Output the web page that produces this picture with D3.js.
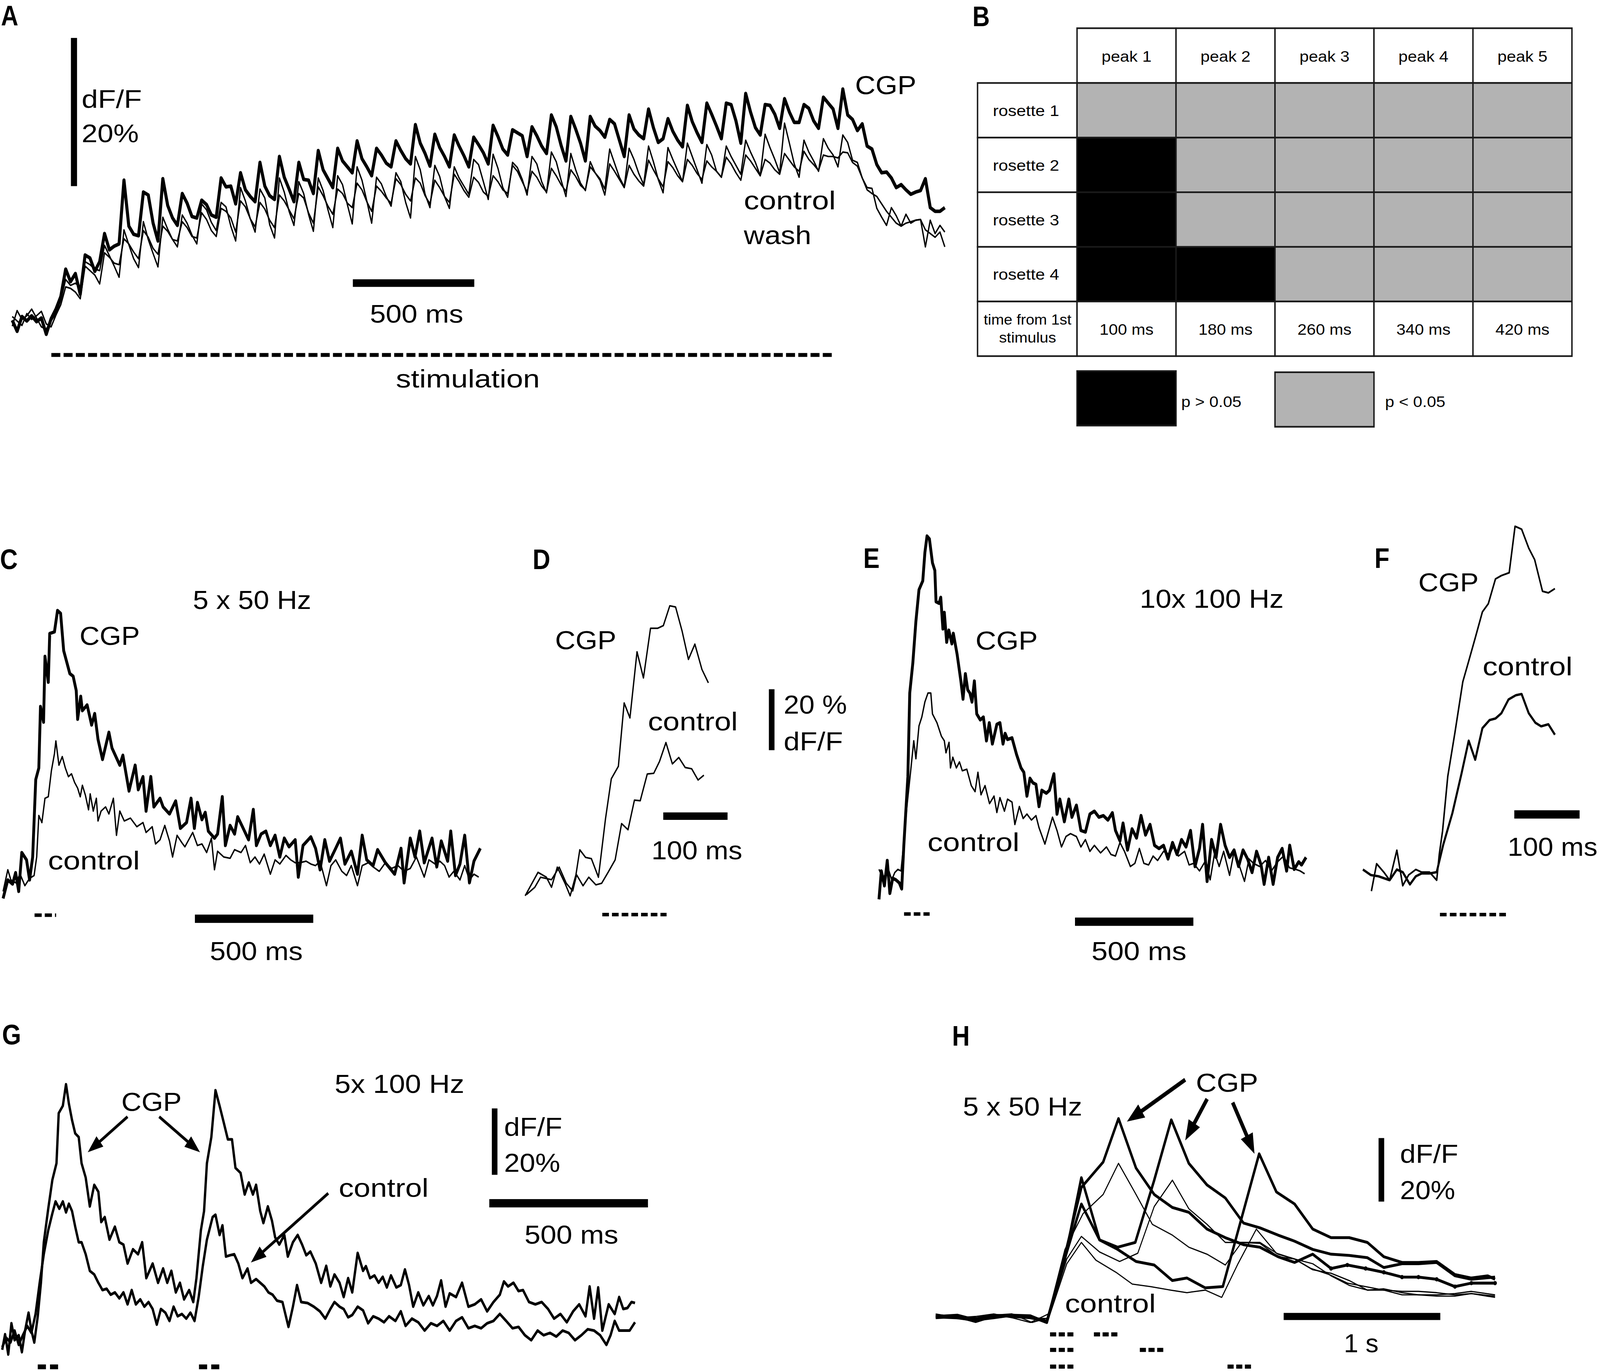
<!DOCTYPE html>
<html>
<head>
<meta charset="utf-8">
<script src="https://cdn.jsdelivr.net/npm/d3@7"></script>
<style>
  html, body { margin: 0; padding: 0; background: #fff; overflow: hidden; }
  svg { display: block; width: 100vw; height: 100vh; }
  text { font-family: "Liberation Sans", Arial, Helvetica, sans-serif; fill: #000; }
</style>
</head>
<body>
<script>
// ---------- data ----------
// A: long train, one sample every 20 ms, dF/F in %
const aStep = 20;
const aStim = [161, 3380];
const aCGP = [
  0.3,-1.2,0.8,0.2,0.9,0.1,0.6,-1.6,
  0.5,1.8,3.5,7.2, 5.5,6.6,3.8,9.1, 8.7,6.9,8.2,12.0, 9.8,10.3,10.6,19.2,
  13.0,11.9,11.7,17.6, 17.2,13.4,11.0,19.4, 15.8,14.1,13.1,17.4, 16.1,14.3,14.1,16.5,
  15.9,14.5,14.2,19.5, 18.3,18.4,16.0,20.2, 17.9,17.0,16.3,21.6, 18.4,17.1,16.6,22.4,
  19.6,18.0,16.3,21.6, 19.3,19.2,17.4,23.2, 20.6,19.4,18.2,23.5, 21.8,21.0,20.2,24.5,
  22.1,21.0,19.8,23.5, 22.6,21.5,21.0,24.5, 23.2,22.1,21.4,26.7, 24.2,22.8,21.1,25.4,
  23.6,22.4,21.0,25.3, 23.8,22.5,21.0,25.0, 24.0,22.9,21.4,26.6, 25.1,23.4,22.6,26.0,
  25.6,25.2,22.4,26.4, 25.2,23.8,22.8,28.0, 26.4,23.9,21.8,27.8, 26.1,24.2,21.8,27.8,
  26.5,25.9,25.0,27.4, 26.8,24.6,22.4,28.0, 26.1,25.3,24.8,28.8, 26.3,24.3,24.8,27.5,
  25.8,24.6,23.7,29.3, 27.1,25.6,24.3,29.6, 28.1,26.5,24.8,29.6, 29.4,27.2,24.2,30.9,
  28.4,26.3,25.3,29.4, 29.3,28.1,26.2,30.2, 28.4,27.0,27.0,29.4, 28.9,27.2,26.2,30.4,
  29.6,28.8,26.2,31.5,
  28.0,27.4,25.9,26.8,23.8,23.4,21.3,20.2,20.3,19.5,18.2,18.6,17.9,17.3,17.6,17.8,19.4,15.5,15.0,15.0,15.5
];
const aControl = [
  -0.5,1.6,0.4,0.9,1.8,0.6,-0.6,-0.9,
  0.2,1.2,3.0,5.8, 5.0,5.3,4.8,8.2, 7.8,7.2,7.0,10.4, 9.0,7.6,6.1,12.5,
  10.5,8.6,7.4,13.6, 11.2,9.3,7.5,14.2, 12.6,11.2,10.2,14.5, 13.4,11.8,10.6,16.0,
  15.2,13.5,12.4,16.2, 15.6,13.0,11.0,18.2, 16.4,14.0,12.2,18.0, 16.8,13.2,11.4,19.5,
  17.6,15.0,13.1,19.0, 17.4,14.6,12.3,19.5, 17.8,15.2,12.8,19.8, 18.6,15.9,13.3,21.0,
  19.2,16.4,13.4,19.6, 18.7,17.0,15.7,20.2, 19.0,16.2,14.1,22.4, 20.6,17.3,15.5,21.2,
  19.7,17.0,15.4,21.0, 19.5,18.4,17.3,22.0, 21.3,19.0,16.6,22.7, 20.8,18.2,16.9,21.6,
  20.9,19.3,17.2,22.4, 21.4,19.0,17.5,23.0, 21.7,19.2,17.0,22.8, 20.6,18.8,17.8,21.7,
  20.2,19.4,18.0,23.4, 21.5,19.6,18.3,23.5, 22.0,20.1,18.6,23.8, 21.7,19.3,17.5,23.6,
  22.0,20.5,19.0,24.2, 22.4,20.6,18.8,24.0, 22.6,20.4,19.6,23.8, 22.4,21.2,20.0,24.6,
  23.0,21.6,19.8,25.4, 23.6,22.0,20.2,26.9, 24.2,21.4,19.6,24.6, 23.0,21.8,20.4,24.8,
  23.5,22.6,21.0,25.3,
  24.3,21.9,21.6,19.5,18.2,18.1,15.4,14.2,13.1,15.5,14.4,13.0,14.6,13.4,13.8,13.9,10.2,13.8,12.0,13.1,12.2
];
const aWash = [
  0.8,0.2,-0.4,1.2,0.4,0.9,1.5,-0.2,
  -0.6,1.0,2.4,4.8, 4.6,4.1,3.2,7.6, 7.0,6.4,5.2,9.4, 8.8,8.0,7.8,11.3,
  10.6,9.5,8.6,12.4, 11.5,10.0,9.2,13.0, 12.3,11.2,11.0,13.6, 12.8,11.6,11.4,14.8,
  13.9,12.4,11.6,15.4, 15.0,14.1,12.2,16.4, 15.6,14.0,12.9,16.2, 15.3,13.8,12.8,17.2,
  16.4,15.2,14.0,17.4, 16.8,14.8,13.4,18.3, 17.1,15.7,14.6,18.0, 17.4,16.1,15.5,18.8,
  17.9,16.3,15.0,18.4, 17.7,16.8,16.1,19.4, 18.6,17.3,16.4,19.5, 18.8,17.1,16.0,19.2,
  18.2,17.0,16.2,20.0, 19.0,17.8,16.9,19.6, 18.9,17.6,17.0,19.8, 19.0,17.9,17.4,21.2,
  20.4,19.0,17.6,20.4, 19.6,18.4,17.6,20.8, 19.8,18.6,17.7,20.6, 19.7,18.5,17.9,21.0,
  20.2,19.2,17.2,21.4, 20.4,19.3,18.2,21.2, 20.0,19.1,18.4,21.9, 20.6,19.4,18.3,21.7,
  20.9,19.8,19.0,22.0, 21.2,20.1,19.3,21.8, 21.0,20.4,19.6,22.3, 21.4,20.2,19.2,22.6,
  21.8,20.8,19.8,22.0, 21.5,20.6,20.0,22.8, 21.9,21.0,20.4,23.1, 22.0,21.3,20.5,22.6,
  22.4,22.4,22.2,23.0,
  22.9,21.6,21.1,19.5,17.9,17.4,17.0,16.0,15.0,14.2,13.4,13.0,13.4,13.6,13.8,13.9,12.5,12.0,11.5,12.2,10.2
];

// B: significance table
const peakNames = ['peak 1', 'peak 2', 'peak 3', 'peak 4', 'peak 5'];
const rosetteNames = ['rosette 1', 'rosette 2', 'rosette 3', 'rosette 4'];
const peakTimes = ['100 ms', '180 ms', '260 ms', '340 ms', '420 ms'];
// 1 = p > 0.05, 0 = p < 0.05
const sigTable = [
  [0, 0, 0, 0, 0],
  [1, 0, 0, 0, 0],
  [1, 0, 0, 0, 0],
  [1, 1, 0, 0, 0]
];

// C: 5 x 50 Hz, [ms, dF/F %]
const cStim = [146, 237];
const cCGP = [[13,-0.4],[33,6.7],[53,5.1],[66,9.5],[79,2.3],[92,17.2],[112,14.4],[125,6.7],[138,15.5],[151,45.2],[164,49.6],[171,73.2],[184,67.2],[190,92.4],[204,82.5],[210,101.2],[230,101.8],[243,110.0],[256,108.9],[269,94.6],[282,90.2],[295,85.8],[309,84.8],[322,79.3],[328,68.3],[341,77.1],[348,71.6],[368,73.8],[387,66.1],[400,70.5],[414,60.6],[433,52.9],[460,63.3],[473,57.3],[506,50.7],[519,54.5],[545,40.8],[571,50.7],[584,41.3],[604,46.3],[617,33.1],[637,46.3],[650,34.7],[676,38.0],[689,34.7],[716,32.0],[742,37.0],[762,26.5],[788,28.7],[807,38.0],[821,26.5],[834,36.4],[853,29.8],[867,32.6],[880,25.4],[906,22.7],[919,24.3],[939,38.6],[952,19.9],[972,27.6],[991,24.3],[1004,30.9],[1024,27.1],[1050,22.1],[1070,33.7],[1083,19.9],[1103,24.3],[1123,25.4],[1142,19.9],[1162,23.8],[1182,15.5],[1201,22.7],[1221,19.4],[1247,22.1],[1260,7.8],[1280,19.9],[1313,23.2],[1333,18.8],[1352,10.6],[1372,22.1],[1392,13.9],[1418,18.8],[1438,22.7],[1457,12.8],[1484,17.7],[1510,8.9],[1530,23.8],[1549,14.4],[1576,12.2],[1595,18.3],[1628,13.3],[1667,8.9],[1694,18.8],[1707,5.6],[1733,22.7],[1753,15.5],[1773,25.4],[1792,13.3],[1825,22.7],[1845,11.7],[1864,21.6],[1891,13.9],[1904,25.4],[1924,8.4],[1943,12.8],[1963,23.8],[1983,5.6],[2002,13.9],[2029,18.8]];
const cControl = [[13,2.3],[33,10.6],[46,6.7],[66,5.6],[85,8.9],[105,4.5],[125,7.3],[144,8.4],[155,15.5],[164,31.4],[177,28.7],[190,38.0],[204,38.6],[217,48.5],[230,55.1],[236,60.0],[249,50.7],[263,54.0],[276,49.6],[289,46.3],[302,47.4],[315,44.1],[328,41.9],[339,38.6],[348,43.0],[361,39.1],[374,33.6],[381,39.7],[394,33.1],[407,38.0],[414,29.3],[427,33.1],[446,34.7],[460,32.0],[479,38.0],[492,23.8],[506,33.1],[525,29.3],[551,30.4],[578,27.1],[604,28.7],[617,24.9],[643,27.1],[657,20.5],[676,22.1],[696,27.6],[716,21.6],[729,15.5],[748,23.8],[768,21.0],[781,19.4],[814,24.9],[834,19.9],[853,20.5],[873,17.2],[893,22.7],[906,10.6],[919,17.7],[945,15.5],[972,15.0],[991,18.3],[1018,17.2],[1037,19.9],[1057,13.3],[1077,15.5],[1096,12.8],[1116,16.6],[1142,8.9],[1162,14.4],[1182,12.8],[1208,16.1],[1228,14.4],[1247,13.3],[1267,13.3],[1293,13.9],[1313,12.8],[1333,12.2],[1352,13.9],[1379,4.5],[1398,12.2],[1418,14.4],[1444,10.0],[1464,8.4],[1484,12.2],[1510,4.5],[1530,12.2],[1556,13.3],[1576,11.7],[1602,10.0],[1628,13.3],[1654,11.1],[1681,12.2],[1707,10.0],[1733,11.1],[1759,15.5],[1792,7.8],[1812,14.4],[1838,12.8],[1858,13.9],[1878,12.2],[1897,7.8],[1917,10.0],[1943,6.7],[1963,12.2],[1983,6.7],[2002,8.9],[2022,7.8]];

// D: 5 x 50 Hz, expanded time
const dStim = [175, 275];
const dCGP = [[55,-2.2],[75,5.5],[88,3.9],[96,0.6],[105,7.2],[117,1.9],[125,-2.2],[134,4.7],[140,12.9],[149,10.4],[158,10.0],[169,3.9],[180,23.1],[189,36.2],[200,40.3],[209,61.1],[218,56.2],[229,77.9],[239,69.3],[250,85.6],[261,85.6],[270,86.5],[280,93.0],[289,92.6],[299,84.8],[309,75.4],[319,80.4],[330,72.1],[340,67.7]];
const dControl = [[57,-1.8],[70,0.6],[79,3.9],[96,3.1],[108,7.2],[119,1.9],[129,-0.6],[135,4.7],[145,1.1],[154,3.9],[165,1.4],[174,1.9],[184,5.5],[195,9.6],[205,21.5],[215,19.5],[225,29.2],[234,29.0],[245,37.8],[255,38.0],[264,41.9],[274,48.1],[284,41.1],[294,43.2],[304,39.9],[314,39.5],[324,35.8],[333,37.4]];

// E: 10 x 100 Hz
const eStim = [112, 220];
const eCGP = [[6,-6.2],[16,4.7],[29,-1.0],[41,8.7],[52,-3.9],[64,1.9],[77,1.3],[92,0.1],[102,-2.2],[111,14.5],[128,40.8],[136,72.9],[149,84.4],[162,100.4],[175,112.5],[191,115.9],[200,126.8],[209,133.1],[219,132.0],[232,122.8],[242,119.9],[247,107.9],[260,107.3],[267,109.6],[276,97.5],[282,103.8],[292,92.4],[301,97.0],[314,91.8],[320,95.8],[336,87.8],[352,77.5],[361,70.6],[371,80.3],[381,74.1],[390,72.9],[399,69.5],[409,77.5],[419,64.9],[434,62.6],[447,63.7],[460,54.6],[472,61.5],[485,53.4],[504,60.9],[517,61.5],[530,53.4],[539,57.4],[549,55.1],[568,55.7],[587,49.4],[606,44.2],[618,42.5],[631,33.4],[644,40.2],[656,38.5],[669,37.9],[682,29.4],[694,35.6],[713,34.5],[726,35.6],[745,41.9],[758,26.5],[770,32.2],[789,23.6],[808,32.2],[821,25.3],[840,29.9],[859,20.2],[878,19.6],[897,26.5],[916,27.6],[935,25.3],[954,25.9],[973,24.2],[992,27.0],[1005,20.2],[1024,16.2],[1037,23.0],[1056,12.7],[1075,20.8],[1094,17.3],[1113,25.9],[1132,18.5],[1151,22.5],[1170,14.5],[1189,13.3],[1208,14.5],[1227,9.3],[1246,15.6],[1265,11.0],[1284,16.7],[1303,13.9],[1322,20.2],[1341,6.4],[1360,13.3],[1373,22.5],[1392,0.7],[1411,16.7],[1430,9.9],[1449,22.5],[1468,14.5],[1487,9.9],[1506,12.7],[1525,6.4],[1544,12.7],[1563,9.3],[1582,4.1],[1601,12.2],[1620,7.0],[1633,-0.4],[1652,9.9],[1671,-0.4],[1690,9.9],[1709,13.3],[1728,4.7],[1741,14.5],[1760,5.3],[1779,8.2],[1791,7.0],[1810,9.9]];
const eControl = [[6,5.3],[22,1.9],[35,3.6],[48,4.7],[60,1.3],[73,4.1],[86,5.3],[99,4.7],[111,15.6],[124,29.4],[140,43.1],[153,54.6],[162,47.7],[175,60.3],[187,63.7],[200,69.5],[213,72.9],[225,72.9],[232,64.9],[251,61.5],[270,56.3],[282,54.6],[289,50.0],[302,54.0],[308,44.2],[318,48.3],[333,44.2],[346,46.5],[358,43.1],[377,43.7],[396,37.4],[412,35.1],[424,42.5],[437,33.9],[454,37.4],[473,30.5],[492,33.4],[504,27.1],[517,32.8],[536,27.6],[549,32.2],[568,31.1],[580,22.5],[599,29.4],[615,24.8],[631,26.5],[650,24.2],[669,25.9],[682,21.3],[707,15.0],[739,25.3],[758,20.2],[777,13.9],[796,17.9],[815,19.0],[840,17.9],[859,13.9],[878,16.7],[897,12.2],[916,14.5],[942,11.6],[967,13.9],[986,11.0],[1005,10.4],[1024,15.6],[1043,12.2],[1068,6.4],[1087,7.6],[1106,13.3],[1125,7.6],[1145,7.0],[1164,10.4],[1183,8.7],[1208,12.2],[1233,11.0],[1252,14.5],[1271,10.4],[1297,12.2],[1316,7.0],[1335,7.6],[1360,4.7],[1386,8.7],[1405,1.3],[1424,11.6],[1443,6.4],[1462,12.2],[1487,3.0],[1506,12.2],[1525,7.6],[1550,0.7],[1569,9.3],[1588,7.6],[1614,6.4],[1639,8.7],[1664,4.7],[1690,8.2],[1715,10.4],[1740,5.9],[1766,5.3],[1785,4.7],[1804,3.6]];

// F: 10 x 100 Hz, expanded time
const fStim = [119, 220];
const fCGP = [[14,-6.7],[22,3.8],[33,0.6],[42,-2.5],[53,9.0],[62,-4.6],[71,-0.5],[82,1.6],[91,0.6],[103,0.6],[114,-2.5],[118,7.5],[123,16.4],[131,37.4],[142,54.2],[154,73.6],[163,81.5],[173,90.4],[184,100.4],[193,103.5],[204,113.0],[213,114.3],[225,115.4],[234,133.2],[244,132.1],[255,124.8],[264,120.4],[276,108.3],[285,107.7],[295,109.3]];
const fControl = [[1,1.6],[13,-0.5],[25,-1.0],[42,-2.5],[53,1.6],[62,0.6],[73,-4.1],[82,-1.0],[91,0.1],[103,0.1],[114,0.6],[124,11.1],[138,23.2],[152,38.4],[163,51.0],[173,43.7],[184,55.8],[195,58.9],[204,59.5],[213,61.5],[224,66.8],[235,68.4],[244,68.9],[255,61.5],[265,57.9],[274,56.5],[285,57.3],[295,53.3]];

// G: 5 x 100 Hz, two trains
const gStim = [[119, 183], [627, 691]];
const gCGP = [[7,-1.3],[16,3.4],[26,-2.7],[36,6.7],[46,1.6],[59,3.1],[69,-2.0],[79,4.5],[90,9.9],[99,4.5],[108,0.9],[119,8.8],[129,18.9],[138,31.1],[152,41.2],[165,49.9],[178,54.9],[185,70.0],[198,72.2],[208,78.7],[217,72.9],[227,67.9],[237,63.9],[248,62.8],[257,54.9],[270,50.6],[283,41.9],[297,48.4],[310,46.3],[319,37.2],[330,38.7],[345,31.9],[362,35.8],[376,31.1],[389,30.4],[402,24.7],[419,29.0],[435,27.5],[448,31.1],[461,20.3],[481,24.7],[498,18.9],[514,23.2],[527,18.9],[540,22.5],[554,16.0],[567,18.9],[580,13.9],[596,16.7],[609,13.1],[619,20.3],[633,34.7],[643,40.5],[652,54.9],[666,62.8],[679,76.9],[692,72.2],[705,67.2],[718,62.1],[731,62.1],[742,53.5],[758,52.0],[771,45.5],[784,49.1],[797,45.5],[807,48.4],[820,40.5],[830,36.9],[844,41.9],[857,37.6],[867,32.6],[880,30.4],[896,33.3],[907,26.8],[923,31.1],[938,33.3],[952,30.4],[965,27.2],[978,28.3],[995,24.7],[1012,18.9],[1028,24.0],[1041,17.8],[1054,21.4],[1070,18.9],[1083,14.6],[1097,20.3],[1110,16.0],[1127,27.9],[1144,22.5],[1153,23.9],[1166,20.3],[1180,21.1],[1193,18.9],[1206,20.7],[1219,17.5],[1232,21.1],[1249,17.5],[1263,18.2],[1276,22.9],[1289,18.2],[1302,11.7],[1318,16.0],[1334,12.1],[1351,14.9],[1364,12.1],[1377,14.9],[1390,19.6],[1404,11.7],[1417,15.7],[1437,14.6],[1456,18.9],[1476,11.7],[1496,12.4],[1516,13.9],[1535,10.3],[1555,13.1],[1575,15.3],[1588,19.3],[1601,17.8],[1618,18.9],[1634,16.4],[1648,16.7],[1667,13.1],[1687,12.4],[1707,13.1],[1727,11.0],[1746,8.1],[1766,9.5],[1786,7.0],[1806,10.3],[1825,12.4],[1845,8.8],[1858,17.8],[1872,8.1],[1885,17.5],[1898,4.5],[1918,12.4],[1937,9.5],[1951,14.6],[1964,11.0],[1977,11.3],[1990,13.1],[2001,12.8]];
const gControl = [[7,-0.5],[20,2.3],[33,0.9],[46,4.5],[59,0.2],[72,3.1],[86,5.9],[99,3.8],[112,9.5],[125,18.9],[138,27.5],[152,34.7],[165,39.8],[175,43.4],[187,41.2],[198,43.4],[208,40.1],[217,42.7],[227,40.5],[237,35.8],[248,31.1],[257,31.1],[270,27.5],[283,22.5],[297,21.4],[310,18.9],[323,16.7],[336,17.1],[349,15.3],[362,16.0],[376,14.2],[389,16.0],[402,12.4],[415,16.7],[428,12.4],[442,13.9],[455,11.7],[468,13.1],[481,11.0],[494,6.3],[507,11.0],[521,9.9],[534,7.4],[547,11.7],[560,8.8],[573,9.5],[587,8.1],[600,9.9],[613,7.4],[626,14.6],[639,23.9],[652,31.9],[670,38.7],[679,39.4],[692,33.3],[701,36.2],[712,26.8],[725,27.2],[738,27.5],[751,24.7],[764,20.3],[780,23.2],[791,18.9],[807,20.0],[820,18.9],[833,17.8],[846,16.0],[859,15.3],[873,13.5],[890,13.1],[909,5.6],[923,11.7],[936,18.2],[949,13.1],[969,12.8],[989,11.7],[1008,10.3],[1025,8.1],[1041,11.0],[1054,13.1],[1070,11.7],[1083,11.0],[1097,8.5],[1110,9.2],[1127,11.7],[1144,10.6],[1160,6.7],[1176,8.8],[1193,8.1],[1210,7.0],[1226,8.8],[1246,7.4],[1263,10.3],[1278,5.9],[1298,8.1],[1318,7.0],[1338,4.5],[1358,6.7],[1377,5.9],[1397,7.4],[1417,4.5],[1437,7.4],[1456,8.5],[1476,5.2],[1496,5.9],[1516,5.2],[1535,6.7],[1555,7.4],[1575,9.5],[1595,7.4],[1615,5.2],[1634,5.6],[1654,3.1],[1674,1.6],[1694,4.5],[1713,3.1],[1733,3.8],[1753,2.7],[1773,4.5],[1792,3.8],[1812,1.6],[1832,3.1],[1852,4.9],[1872,4.5],[1891,3.1],[1911,0.2],[1924,3.1],[1937,7.4],[1951,4.5],[1970,4.5],[1984,4.5],[2001,7.0]];

// H: paired 5 x 50 Hz trains at three intervals
const hStim = [
  [[730, 879], [1010, 1160]],
  [[730, 879], [1303, 1453]],
  [[730, 879], [1863, 2013]]
];
const hCGP1 = [[0,-0.4],[138,0.0],[255,-1.6],[371,0.2],[487,0.4],[604,0.0],[709,-1.9],[837,21.8],[930,40.6],[1069,48.6],[1167,62.3],[1279,46.7],[1395,38.4],[1511,34.3],[1616,32.8],[1732,27.5],[1849,24.8],[1965,22.6],[2070,21.8],[2186,18.8],[2291,17.0],[2407,19.6],[2524,15.1],[2628,16.2],[2745,15.1],[2861,13.9],[2977,12.4],[3082,12.4],[3198,11.7],[3315,9.4],[3420,10.5],[3571,10.5]];
const hCGP2 = [[0,0.4],[138,-0.4],[255,-0.7],[371,0.4],[487,0.0],[604,-0.4],[709,-1.5],[837,20.3],[930,35.4],[1046,24.1],[1162,21.8],[1274,23.3],[1395,42.9],[1504,61.9],[1616,48.2],[1732,41.4],[1849,37.3],[1965,29.4],[2070,27.9],[2186,25.6],[2291,23.7],[2407,21.1],[2524,19.6],[2640,19.2],[2756,18.5],[2861,15.4],[2977,16.6],[3082,16.6],[3198,17.0],[3315,12.8],[3420,11.7],[3571,12.4]];
const hCGP3 = [[0,0.0],[138,0.4],[255,-1.1],[371,-0.4],[487,0.4],[604,0.2],[709,-1.9],[825,18.1],[930,43.7],[1046,24.1],[1162,21.1],[1279,17.3],[1395,16.2],[1511,11.3],[1604,12.1],[1721,9.0],[1833,9.4],[2065,51.2],[2175,39.2],[2291,35.4],[2407,27.5],[2524,24.8],[2640,24.8],[2756,23.3],[2861,18.8],[2977,17.0],[3082,17.0],[3198,17.3],[3315,13.2],[3420,12.1],[3524,12.8],[3571,11.7]];
const hCtl1 = [[0,0.8],[138,-0.4],[255,0.0],[371,0.8],[487,-0.4],[604,-1.9],[720,0.8],[825,21.1],[941,32.4],[1069,38.4],[1167,48.2],[1279,38.4],[1383,29.0],[1511,25.6],[1616,21.8],[1732,19.6],[1849,16.2],[1953,23.3],[2070,23.0],[2186,18.8],[2291,18.1],[2407,14.7],[2524,13.6],[2640,11.3],[2756,8.3],[2861,8.3],[2977,7.9],[3082,7.9],[3198,7.5],[3315,6.8],[3420,7.2],[3571,6.4]];
const hCtl2 = [[0,-0.4],[138,-0.7],[255,-1.5],[371,0.4],[487,0.8],[615,-1.9],[720,-0.4],[837,18.1],[930,25.2],[1046,20.3],[1174,17.3],[1290,19.9],[1395,34.6],[1511,42.9],[1616,33.9],[1732,29.0],[1849,23.3],[1953,23.3],[2070,23.3],[2186,19.6],[2291,18.1],[2407,16.6],[2524,12.8],[2640,9.8],[2756,8.3],[2861,8.7],[2977,7.5],[3082,6.8],[3198,6.8],[3315,7.2],[3420,7.9],[3571,6.8]];
const hCtl3 = [[0,0.0],[138,0.0],[255,-0.4],[371,0.0],[487,0.0],[604,-0.4],[720,-0.7],[837,16.6],[930,23.3],[1023,17.7],[1151,13.9],[1255,10.2],[1372,9.4],[1500,8.3],[1604,7.5],[1721,8.3],[1826,6.0],[1930,16.6],[2047,27.5],[2175,19.9],[2291,18.1],[2396,15.1],[2512,13.2],[2628,10.5],[2745,9.4],[2861,8.3],[2977,6.8],[3082,6.8],[3198,6.4],[3315,6.4],[3420,7.2],[3571,6.0]];

// ---------- drawing ----------
// the whole figure is laid out on a 1568 x 1156.5 grid and stretched to the window
const W = 1568, H = 1156.5;
const svg = d3.select('body').append('svg')
  .attr('viewBox', `0 0 ${W} ${H}`)
  .attr('preserveAspectRatio', 'none');

function txt(s, x, y, size, w, bold) {
  const t = svg.append('text').attr('x', x).attr('y', y)
    .attr('font-size', size).text(s);
  if (w) t.attr('textLength', w).attr('lengthAdjust', 'spacingAndGlyphs');
  if (bold) t.attr('font-weight', 'bold');
  return t;
}
function ctxt(s, cx, y, size, w) {
  return txt(s, cx - w / 2, y, size, w);
}
function bar(x, y, w, h) {
  svg.append('rect').attr('x', x).attr('y', y).attr('width', w).attr('height', h).attr('fill', '#000');
}
function stim(xs, t0, t1, y, dash, sw) {
  svg.append('line').attr('x1', xs(t0)).attr('x2', xs(t1)).attr('y1', y).attr('y2', y)
    .attr('stroke', '#000').attr('stroke-width', sw).attr('stroke-dasharray', dash);
}
function trace(data, xs, ys, sw) {
  const line = d3.line().x(d => xs(d[0])).y(d => ys(d[1]));
  return svg.append('path').datum(data).attr('d', line)
    .attr('fill', 'none').attr('stroke', '#000').attr('stroke-width', sw)
    .attr('stroke-linejoin', 'round');
}
function arrow(x1, y1, x2, y2, sw, hl, hw) {
  const len = Math.hypot(x2 - x1, y2 - y1);
  const ux = (x2 - x1) / len, uy = (y2 - y1) / len;
  const bx = x2 - ux * hl, by = y2 - uy * hl;
  svg.append('line').attr('x1', x1).attr('y1', y1).attr('x2', bx + ux * 2).attr('y2', by + uy * 2)
    .attr('stroke', '#000').attr('stroke-width', sw);
  svg.append('polygon')
    .attr('points', [[x2, y2], [bx - uy * hw / 2, by + ux * hw / 2], [bx + uy * hw / 2, by - ux * hw / 2]].join(' '))
    .attr('fill', '#000');
}

// ---- A ----
const xA = d3.scaleLinear().domain([0, 3860]).range([12, 12 + 3860 * 0.238]);
const yA = d3.scaleLinear().domain([0, 20]).range([272, 147]);
txt('A', 1, 21.5, 23.5, null, true);
trace(aWash.map((v, i) => [i * aStep, v]), xA, yA, 1.3);
trace(aControl.map((v, i) => [i * aStep, v]), xA, yA, 1.3);
trace(aCGP.map((v, i) => [i * aStep, v]), xA, yA, 3);
bar(69.5, 32, 6, yA(0) - yA(20));
txt('dF/F', 80, 91, 21.5, 59);
txt('20%', 80, 120, 21.5, 56);
bar(345.8, 235.6, xA(500) - xA(0), 6.4);
txt('500 ms', 362.5, 272, 21.5, 91.5);
stim(xA, aStim[0], aStim[1], 299.4, '8.8,3.2', 3.3);
txt('stimulation', 388, 327, 21.5, 141);
txt('CGP', 838, 79.4, 22, 60);
txt('control', 729, 176.5, 22, 90);
txt('wash', 729, 206, 22, 66);

// ---- B ----
txt('B', 953, 22, 23.5, null, true);
const colX = d3.scaleLinear().domain([0, 5]).range([1055.5, 1540.5]);
const rowY = d3.scaleLinear().domain([0, 5]).range([70, 300.4]);
const cw = colX(1) - colX(0), rh = rowY(1) - rowY(0);
const gridStroke = '#1a1a1a';
const cell = (x, y, w, h, fill) => svg.append('rect').attr('x', x).attr('y', y)
  .attr('width', w).attr('height', h).attr('fill', fill)
  .attr('stroke', gridStroke).attr('stroke-width', 1.4);
peakNames.forEach((p, j) => {
  cell(colX(j), 23.8, cw, 70 - 23.8, '#fff');
  ctxt(p, colX(j) + cw / 2, 52, 13, 49);
});
rosetteNames.forEach((r, i) => {
  cell(958, rowY(i), 1055.5 - 958, rh, '#fff');
  ctxt(r, 1005.5, rowY(i) + rh / 2 + 4.8, 13, 65);
  sigTable[i].forEach((s, j) => cell(colX(j), rowY(i), cw, rh, s ? '#000' : '#b3b3b3'));
});
cell(958, rowY(4), 1055.5 - 958, rh, '#fff');
ctxt('time from 1st', 1007, 273.9, 12, 86);
ctxt('stimulus', 1007, 288.9, 12, 56);
peakTimes.forEach((t, j) => {
  cell(colX(j), rowY(4), cw, rh, '#fff');
  ctxt(t, colX(j) + cw / 2, 282.4, 13, 53);
});
cell(1055.5, 313, cw, 46, '#000');
txt('p > 0.05', 1157.6, 343.2, 13, 59);
cell(1249.5, 314, cw, 46, '#b3b3b3');
txt('p < 0.05', 1357.4, 343.2, 13, 59);

// ---- C ----
const xC = d3.scaleLinear().domain([0, 2040]).range([0, 2040 * 0.232]);
const yC = d3.scaleLinear().domain([0, 100]).range([757, 537]);
txt('C', 0, 480, 24, null, true);
txt('5 x 50 Hz', 189, 513.7, 22, 116);
trace(cControl, xC, yC, 1.3);
trace(cCGP, xC, yC, 2.8);
txt('CGP', 78, 544, 22, 59);
txt('control', 47, 733.6, 22, 90);
stim(xC, cStim[0], cStim[1], 772, '7,3', 3);
bar(191, 771.5, xC(500) - xC(0), 7);
txt('500 ms', 205.7, 810, 22, 91);

// ---- D ----
const xD = d3.scaleLinear().domain([0, 400]).range([480, 480 + 400 * 0.63]);
const yD = d3.scaleLinear().domain([0, 100]).range([750, 493]);
txt('D', 522, 480, 24, null, true);
trace(dCGP, xD, yD, 1.3);
trace(dControl, xD, yD, 1.3);
txt('CGP', 544, 547.7, 22, 60);
txt('control', 635, 616, 22, 88);
bar(753.5, 581.4, 5.5, yD(0) - yD(20));
txt('20 %', 768, 602, 22, 62);
txt('dF/F', 768, 633, 22, 58);
bar(650, 685.3, xD(100) - xD(0), 6.3);
txt('100 ms', 638.4, 725, 22, 89);
stim(xD, dStim[0], dStim[1], 771.5, '6.5,3', 3);

// ---- E ----
const xE = d3.scaleLinear().domain([0, 2000]).range([860, 860 + 2000 * 0.232]);
const yE = d3.scaleLinear().domain([0, 100]).range([745, 525]);
txt('E', 846, 479, 24, null, true);
txt('10x 100 Hz', 1117, 512.8, 22, 141);
trace(eControl, xE, yE, 1.3);
trace(eCGP, xE, yE, 2.8);
txt('CGP', 956, 548, 22, 61);
txt('control', 909, 718, 22, 90);
stim(xE, eStim[0], eStim[1], 771, '6.5,3', 3);
bar(1053.5, 774, xE(500) - xE(0), 7);
txt('500 ms', 1069.7, 810, 22, 93);

// ---- F ----
const xF = d3.scaleLinear().domain([0, 300]).range([1335, 1335 + 300 * 0.64]);
const yF = d3.scaleLinear().domain([0, 100]).range([737, 517]);
txt('F', 1347, 479, 24, null, true);
trace(fCGP, xF, yF, 1.5);
trace(fControl, xF, yF, 2);
txt('CGP', 1390, 498.8, 22, 59);
txt('control', 1453, 569.7, 22, 88);
bar(1484, 683.5, xF(100) - xF(0), 7);
txt('100 ms', 1477.5, 721.8, 22, 88);
stim(xF, fStim[0], fStim[1], 771.5, '6.5,3.2', 3);

// ---- G ----
const xG = d3.scaleLinear().domain([0, 2000]).range([0, 2000 * 0.311]);
const yG = d3.scaleLinear().domain([0, 100]).range([1135, 855]);
txt('G', 2, 881, 24, null, true);
trace(gControl, xG, yG, 2.3);
trace(gCGP, xG, yG, 2.3);
txt('5x 100 Hz', 328, 922, 22, 127);
txt('CGP', 119, 937, 22, 59);
txt('control', 332, 1009.6, 22, 88);
arrow(125, 942, 86, 972, 2.5, 15, 11);
arrow(156, 942, 196, 972, 2.5, 15, 11);
arrow(321.7, 1006.6, 245.9, 1065, 2.5, 15, 11);
bar(482, 935, 5.5, yG(0) - yG(20));
txt('dF/F', 494, 958, 22, 57);
txt('20%', 494, 988.5, 22, 55);
bar(479.5, 1011.5, xG(500) - xG(0), 7);
txt('500 ms', 514, 1049, 22, 92);
gStim.forEach(s => stim(xG, s[0], s[1], 1153, '8,4', 4));

// ---- H ----
const xH = d3.scaleLinear().domain([0, 3600]).range([917, 917 + 3600 * 0.1535]);
const yH = d3.scaleLinear().domain([0, 100]).range([1110.5, 842.5]);
txt('H', 933, 882, 24, null, true);
[hCtl1, hCtl2, hCtl3].forEach(d => trace(d, xH, yH, 1));
[hCGP1, hCGP2, hCGP3].forEach(d => trace(d, xH, yH, 2.4));
svg.append('g').selectAll('circle').data(hCGP1.filter(d => d[0] > 2500)).join('circle')
  .attr('cx', d => xH(d[0])).attr('cy', d => yH(d[1])).attr('r', 1.8).attr('fill', '#000');
txt('5 x 50 Hz', 943.6, 941, 22, 117);
txt('CGP', 1172, 921, 22, 61);
arrow(1161.5, 910.8, 1104.4, 946.1, 3.5, 17, 13);
arrow(1183, 927, 1161.5, 962, 3.5, 17, 13);
arrow(1208, 930, 1229.4, 973.3, 3.5, 17, 13);
txt('control', 1043.6, 1107, 22, 89);
bar(1351, 960, 5.5, yH(0) - yH(20));
txt('dF/F', 1372, 981, 22, 57);
txt('20%', 1372, 1011.6, 22, 54);
bar(1258, 1107.5, xH(1000) - xH(0), 6);
txt('1 s', 1317, 1140.7, 22, 34);
const stimRowY = [1125.6, 1138.7, 1152.8];
hStim.forEach((row, r) => row.forEach(s => stim(xH, s[0], s[1], stimRowY[r], '6,2.5', 3.5)));
</script>
</body>
</html>
